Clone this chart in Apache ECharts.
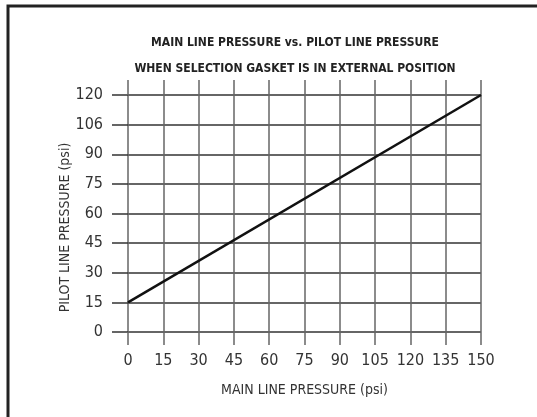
<!DOCTYPE html>
<html lang="en">
<head>
    <meta charset="utf-8"/>
    <title>Main line vs pilot line pressure</title>
    <script src="https://cdn.jsdelivr.net/npm/echarts@6/dist/echarts.min.js"></script>
</head>
<body style="margin:0;background:#fff;">
<div id="echarts" style="width:537px;height:417px;"></div>
<script type="text/javascript">
    // data
    var mainPressure = [0, 150];
    var pilotPressure = [15, 120];
    var xTicks = [0, 15, 30, 45, 60, 75, 90, 105, 120, 135, 150];
    // the original labels the 105 line as "106"
    var yTickLabels = {0: '0', 15: '15', 30: '30', 45: '45', 60: '60', 75: '75', 90: '90', 105: '106', 120: '120'};

    var font = '"Liberation Sans Narrow", "DejaVu Sans Condensed", sans-serif';
    var points = [];
    for (var i = 0; i < mainPressure.length; i++) {
        points.push([mainPressure[i], pilotPressure[i]]);
    }

    var myChart = echarts.init(document.getElementById('echarts'));
    var option = {
        animation: false,
        //frame around the figure
        graphic: [{
            type: 'rect',
            shape: {x: 8, y: 6, width: 560, height: 440},
            style: {fill: 'none', stroke: '#222', lineWidth: 3}
        }],
        title: {
            text: 'MAIN LINE PRESSURE vs. PILOT LINE PRESSURE\nWHEN SELECTION GASKET IS IN EXTERNAL POSITION',
            left: 290,
            top: 25,
            textAlign: 'center',
            textStyle: {
                fontFamily: font,
                fontWeight: 'bold',
                fontSize: 12,
                lineHeight: 26,
                color: '#222'
            }
        },
        grid: {left: 128, right: 56, top: 95, bottom: 85},
        xAxis: [{
            type: 'value',
            min: 0, max: 150, interval: 15,
            name: 'MAIN LINE PRESSURE (psi)',
            nameLocation: 'middle',
            nameGap: 51,
            nameMoveOverlap: false,
            nameTextStyle: {fontFamily: font, fontSize: 14, color: '#333'},
            axisLine: {show: false},
            axisTick: {show: true, length: 13, lineStyle: {color: '#666', width: 1.5}},
            axisLabel: {margin: 21, fontFamily: font, fontSize: 16, color: '#333',
                formatter: function (v) { return xTicks.indexOf(v) >= 0 ? String(v) : ''; }},
            splitLine: {show: true, lineStyle: {color: '#666', width: 1.5}}
        }, {
            type: 'value',
            position: 'top',
            min: 0, max: 150, interval: 15,
            axisLine: {show: false},
            axisTick: {show: true, length: 15, lineStyle: {color: '#666', width: 1.5}},
            axisLabel: {show: false},
            splitLine: {show: false}
        }],
        yAxis: {
            type: 'value',
            min: 0, max: 120, interval: 15,
            name: 'PILOT LINE PRESSURE (psi)',
            nameLocation: 'middle',
            nameGap: 56,
            nameMoveOverlap: false,
            nameTextStyle: {fontFamily: font, fontSize: 14, color: '#333', padding: [0, 28, 0, 0]},
            axisLine: {show: false},
            axisTick: {show: true, length: 16, lineStyle: {color: '#333', width: 1.5}},
            axisLabel: {
                margin: 25, fontFamily: font, fontSize: 16, color: '#333',
                formatter: function (v) { return yTickLabels[v]; }
            },
            splitLine: {show: true, lineStyle: {color: '#333', width: 1.5}}
        },
        series: [{
            type: 'line',
            data: points,
            symbol: 'none',
            lineStyle: {color: '#111', width: 2.5}
        }]
    };
    myChart.setOption(option);
</script>
</body>
</html>
